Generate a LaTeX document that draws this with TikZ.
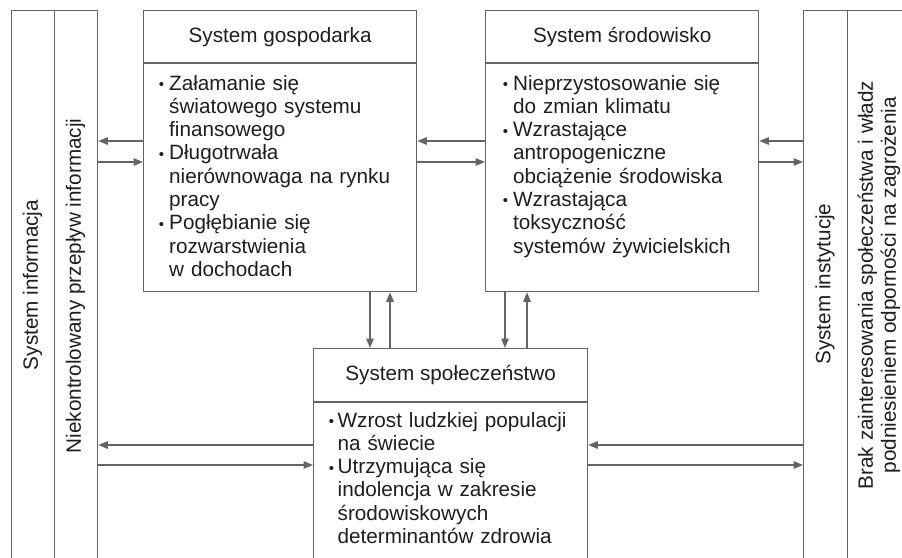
\documentclass[tikz,border=0pt]{standalone}
\usepackage{fontspec}
\setmainfont{Liberation Sans}
\usetikzlibrary{arrows.meta}
\definecolor{linec}{RGB}{100,100,100}
\definecolor{txtc}{RGB}{30,30,30}
\newcommand{\bul}[1]{\makebox[0pt][r]{\raisebox{0.6pt}{\fontsize{15}{15}\selectfont •}\hspace{#1}}}
\begin{document}
\begin{tikzpicture}[x=1pt,y=-1pt,
  frame/.style={draw=linec, line width=1.3pt, inner sep=0pt, anchor=north west},
  arr/.style={draw=linec, line width=1.3pt, -{Triangle[length=9.5pt,width=7.5pt]}},
  sepline/.style={draw=linec, line width=1.3pt},
  lbl/.style={text=txtc, inner sep=0pt, font=\fontsize{20.7}{23}\selectfont},
  body/.style={text=txtc, inner sep=0pt, anchor=base west, text width=250pt, align=left,
               font=\fontsize{20.7}{23.3}\selectfont}]
\clip (0,0) rectangle (902,557);
\fill[white] (0,0) rectangle (902,557);
% side columns
\node[frame, minimum width=43pt, minimum height=620pt] (info) at (11,10) {};
\node[frame, minimum width=43pt, minimum height=620pt] (niek) at (54,10) {};
\node[frame, minimum width=44pt, minimum height=620pt] (inst) at (803,10) {};
\node[frame, minimum width=90pt, minimum height=620pt] (brak) at (847,10) {};
\node[lbl, rotate=90] (infoT) at (32.5,285) {System informacja};
\node[lbl, rotate=90] (niekT) at (75.5,286) {Niekontrolowany przepływ informacji};
\node[lbl, rotate=90] (instT) at (825,284) {System instytucje};
\node[lbl, rotate=90, align=center] (brakT) at (879,285) {Brak zainteresowania społeczeństwa i władz\\podniesieniem odporności na zagrożenia};
% main boxes
\node[frame, minimum width=273pt, minimum height=281pt] (gosp) at (143,10) {};
\node[frame, minimum width=273pt, minimum height=281pt] (srod) at (485,10) {};
\node[frame, minimum width=274pt, minimum height=260pt] (spol) at (313,348) {};
\draw[sepline] ([yshift=-53pt]gosp.north west) -- ([yshift=-53pt]gosp.north east);
\draw[sepline] ([yshift=-53pt]srod.north west) -- ([yshift=-53pt]srod.north east);
\draw[sepline] ([yshift=-54pt]spol.north west) -- ([yshift=-54pt]spol.north east);
\node[lbl] (gospH) at ([yshift=-27pt]gosp.north) {System gospodarka};
\node[lbl] (srodH) at ([yshift=-27pt]srod.north) {System środowisko};
\node[lbl] (spolH) at ([yshift=-27pt]spol.north) {System społeczeństwo};
\node[body] (gospB) at (169,90) {\bul{5pt}Załamanie się\\
światowego systemu\\
finansowego\\
\bul{5pt}Długotrwała\\
nierównowaga na rynku\\
pracy\\
\bul{5pt}Pogłębianie się\\
rozwarstwienia\\
w dochodach};
\node[body] (srodB) at (513,90) {\bul{5pt}Nieprzystosowanie się\\
do zmian klimatu\\
\bul{5pt}Wzrastające\\
antropogeniczne\\
obciążenie środowiska\\
\bul{5pt}Wzrastająca\\
toksyczność\\
systemów żywicielskich};
\node[body] (spolB) at (337.5,427) {\bul{3.5pt}Wzrost ludzkiej populacji\\
na świecie\\
\bul{3.5pt}Utrzymująca się\\
indolencja w zakresie\\
środowiskowych\\
determinantów zdrowia};
% horizontal arrows
\draw[arr] (gosp.west |- 0,141) -- (niek.east |- 0,141);
\draw[arr] (niek.east |- 0,162) -- (gosp.west |- 0,162);
\draw[arr] (srod.west |- 0,141) -- (gosp.east |- 0,141);
\draw[arr] (gosp.east |- 0,162) -- (srod.west |- 0,162);
\draw[arr] (inst.west |- 0,141) -- (srod.east |- 0,141);
\draw[arr] (srod.east |- 0,162) -- (inst.west |- 0,162);
\draw[arr] (spol.west |- 0,445) -- (niek.east |- 0,445);
\draw[arr] (niek.east |- 0,465) -- (spol.west |- 0,465);
\draw[arr] (inst.west |- 0,445) -- (spol.east |- 0,445);
\draw[arr] (spol.east |- 0,465) -- (inst.west |- 0,465);
% vertical arrows
\draw[arr] (gosp.south -| 370,0) -- (spol.north -| 370,0);
\draw[arr] (spol.north -| 390,0) -- (gosp.south -| 390,0);
\draw[arr] (srod.south -| 505,0) -- (spol.north -| 505,0);
\draw[arr] (spol.north -| 527,0) -- (srod.south -| 527,0);
\end{tikzpicture}
\end{document}
